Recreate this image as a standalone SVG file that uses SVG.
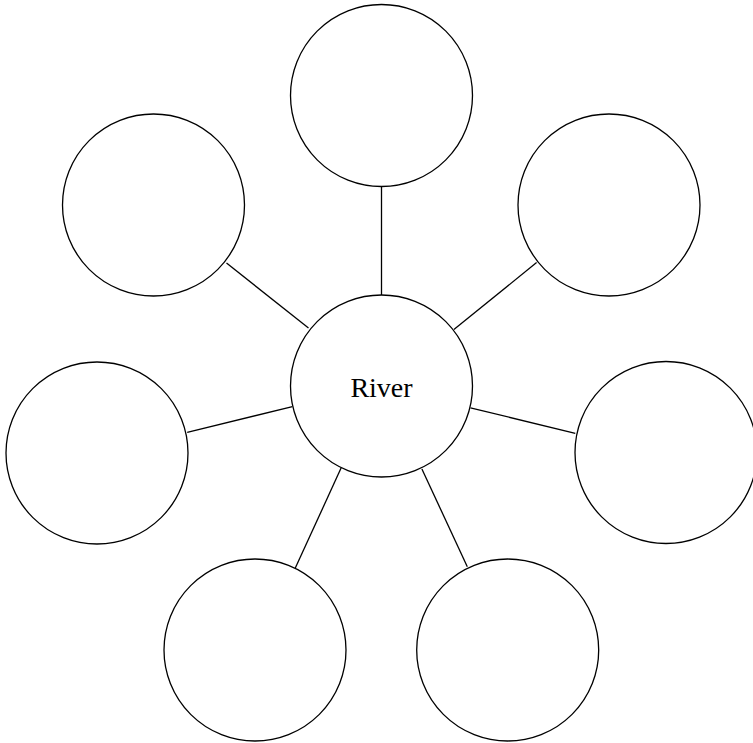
<svg xmlns="http://www.w3.org/2000/svg" width="753" height="743" viewBox="0 0 753 743">
<style>
.n{fill:#fff;stroke:#000;stroke-width:1.3}
.c{stroke:#000;stroke-width:1.3;fill:none}
text{font-family:"Liberation Serif",serif;font-size:28px;fill:#000}
</style>
<rect width="753" height="743" fill="#fff"/>
<g id="connectors">
<line class="c" x1="381.5" y1="186.5" x2="381.5" y2="295"/>
<line class="c" x1="536.6" y1="262.6" x2="453.9" y2="329.6"/>
<line class="c" x1="575.3" y1="433.4" x2="470.5" y2="407.8"/>
<line class="c" x1="467.3" y1="566.8" x2="421.9" y2="468.9"/>
<line class="c" x1="295.3" y1="568.1" x2="341.3" y2="467.6"/>
<line class="c" x1="187.2" y1="432.4" x2="292.4" y2="406.6"/>
<line class="c" x1="226.5" y1="263.0" x2="308.5" y2="328.0"/>
</g>
<g id="center"><circle class="n" cx="381.5" cy="386" r="91"/><text x="381.5" y="397" text-anchor="middle">River</text></g>
<g id="top"><circle class="n" cx="381.5" cy="95.5" r="91"/></g>
<g id="topright"><circle class="n" cx="609" cy="205" r="91"/></g>
<g id="right"><circle class="n" cx="666" cy="452.5" r="91"/></g>
<g id="bottomright"><circle class="n" cx="507.7" cy="650" r="91"/></g>
<g id="bottomleft"><circle class="n" cx="255" cy="650" r="91"/></g>
<g id="left"><circle class="n" cx="97" cy="453" r="91"/></g>
<g id="topleft"><circle class="n" cx="153.5" cy="205" r="91"/></g>
</svg>
